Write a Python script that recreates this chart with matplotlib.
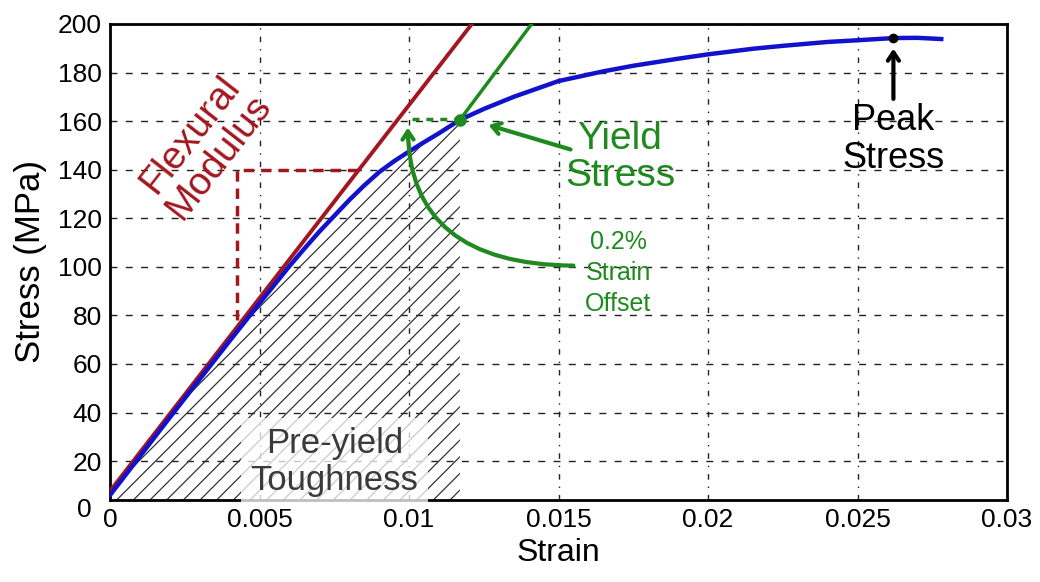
import matplotlib
matplotlib.use('Agg')
import matplotlib.pyplot as plt
from matplotlib.patches import FancyArrowPatch
import numpy as np

plt.rcParams['font.family'] = ['Liberation Sans', 'DejaVu Sans']
plt.rcParams['hatch.linewidth'] = 0.9
plt.rcParams['hatch.color'] = '#333333'

# stress-strain curve
strain = [0, 0.002, 0.004, 0.005, 0.006, 0.0065, 0.007, 0.0075, 0.008, 0.0085,
          0.009, 0.0095, 0.01, 0.0105, 0.011, 0.0117, 0.0125, 0.0135, 0.015,
          0.0165, 0.0175, 0.019, 0.02, 0.0215, 0.0225, 0.024, 0.025, 0.0262,
          0.027, 0.0278]
stress = [6, 38, 69.5, 85, 100.3, 107.5, 114.5, 121, 127.5, 133.5,
          139, 143.5, 147.5, 151.3, 155, 160.5, 165, 170, 176.5,
          180.5, 182.8, 185.7, 187.5, 189.8, 191, 192.6, 193.3, 194.2,
          194.3, 193.8]

# flexural modulus line and 0.2 % offset line
modulus_strain = [0, 0.0121]
modulus_stress = [7.7, 200]
offset_strain = [0.0117, 0.0141]
offset_stress = [160.5, 200]

# slope triangle
tri_strain = [0.00425, 0.00425, 0.00833]
tri_stress = [78, 140, 140]

yield_pt = (0.0117, 160.5)
peak_pt = (0.0262, 194.3)

xticks = [0, 0.005, 0.01, 0.015, 0.02, 0.025, 0.03]
xticklabels = ['0', '0.005', '0.01', '0.015', '0.02', '0.025', '0.03']
yticks = [20, 40, 60, 80, 100, 120, 140, 160, 180, 200]

RED = '#a3161f'
GREEN = '#1e8a1e'
BLUE = '#1212cc'

fig = plt.figure(figsize=(10.4, 5.82), dpi=100)
ax = fig.add_axes([0.1058, 0.1409, 0.8625, 0.8179])
ax.set_xlim(0, 0.03)
ax.set_ylim(4, 200)

# grid
for yv in yticks:
    ax.axhline(yv, color='#222222', lw=1.0, ls=(0, (5, 6)), zorder=1)
for xv in xticks[1:-1]:
    ax.axvline(xv, color='#222222', lw=1.0, ls=(0, (4, 5, 1, 5)), zorder=1)

# pre-yield toughness hatch
s_arr = np.array(strain)
t_arr = np.array(stress)
mask = s_arr <= yield_pt[0]
ax.fill_between(s_arr[mask], 0, t_arr[mask], facecolor='none',
                edgecolor='#333333', hatch='//', lw=0, zorder=2)

ax.text(0.0075, 19.5, 'Pre-yield\nToughness', ha='center', va='center',
        fontsize=25, color='#3a3a3a', linespacing=1.15, zorder=3,
        bbox=dict(facecolor='white', edgecolor='none', alpha=0.75, pad=7))

# lines
ax.plot(modulus_strain, modulus_stress, color=RED, lw=2.8, zorder=4)
ax.plot(tri_strain, tri_stress, color=RED, lw=2.5, ls=(0, (3, 2)), zorder=4)
ax.plot(strain, stress, color=BLUE, lw=3.2, zorder=5)
ax.plot(offset_strain, offset_stress, color=GREEN, lw=2.5, zorder=4)
ax.plot([0.0101, yield_pt[0]], [161, 161], color=GREEN, lw=2.5,
        ls=(0, (2, 2)), zorder=4)
ax.plot(*yield_pt, 'o', color=GREEN, ms=8, zorder=6)
ax.plot(*peak_pt, 'o', color='black', ms=6, zorder=6)

# annotations
ax.text(0.00318, 150, 'Flexural\nModulus', rotation=52, rotation_mode='anchor',
        ha='center', va='center', fontsize=28, color=RED, linespacing=1.0)
ax.text(0.01705, 145, 'Yield\nStress', ha='center', va='center', fontsize=28,
        color=GREEN, linespacing=1.05)
ax.text(0.0170, 97.5, '0.2%\nStrain\nOffset', ha='center', va='center',
        fontsize=18, color=GREEN, linespacing=1.35)
ax.text(peak_pt[0], 152.5, 'Peak\nStress', ha='center', va='center',
        fontsize=26, color='black', linespacing=1.1)

ax.add_patch(FancyArrowPatch((0.01549, 148), (0.01257, 158.7),
                             arrowstyle='->,head_length=6,head_width=4',
                             color=GREEN, lw=3, zorder=6))
ax.add_patch(FancyArrowPatch((0.01559, 100.5), (0.00996, 158.5),
                             connectionstyle='angle3,angleA=0,angleB=90',
                             arrowstyle='->,head_length=6,head_width=4',
                             color=GREEN, lw=3, zorder=6))
ax.add_patch(FancyArrowPatch((peak_pt[0], 168), (peak_pt[0], 191),
                             arrowstyle='->,head_length=6,head_width=4',
                             color='black', lw=3, zorder=6))

# axes
ax.set_xticks(xticks)
ax.set_xticklabels(xticklabels)
ax.set_yticks(yticks)
ax.tick_params(direction='in', length=0, labelsize=19, pad=6)
ax.text(-0.0006, 0, '0', ha='right', va='center', fontsize=19, clip_on=False)
for sp in ax.spines.values():
    sp.set_linewidth(2)
ax.set_xlabel('Strain', fontsize=23, labelpad=4)
ax.set_ylabel('Stress (MPa)', fontsize=25, labelpad=8)

fig.savefig('out.png', dpi=100)
